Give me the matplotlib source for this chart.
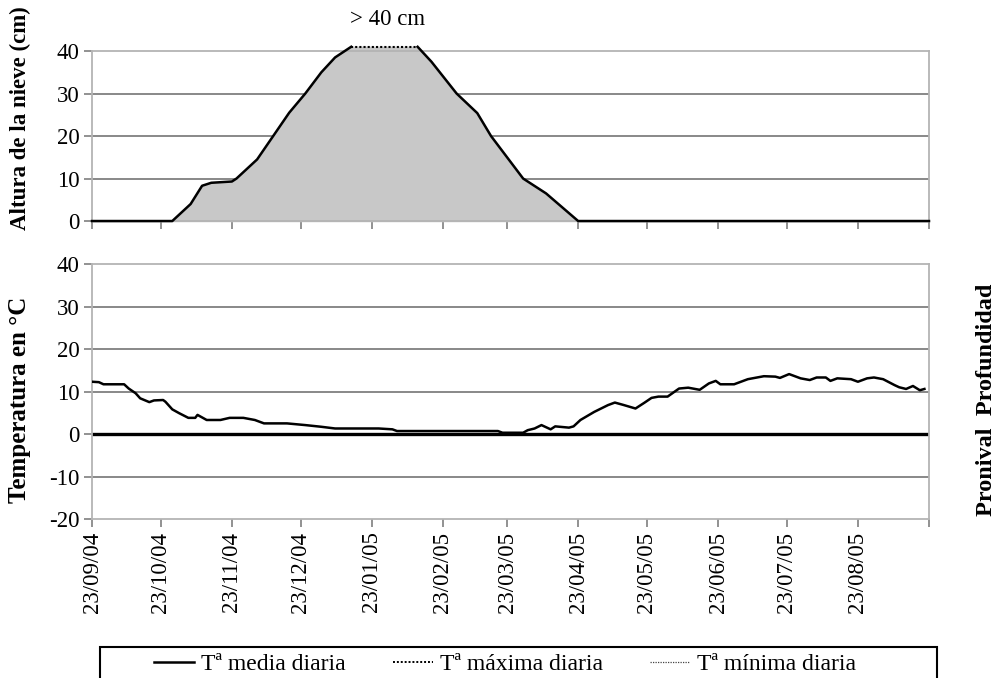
import matplotlib.pyplot as plt
import pandas as pd
from matplotlib.lines import Line2D
from matplotlib.patches import Rectangle

plt.rcParams['font.family'] = ['Liberation Serif', 'DejaVu Serif']
plt.rcParams['xtick.labelsize'] = 16.5
plt.rcParams['ytick.labelsize'] = 16.5
plt.rcParams['axes.unicode_minus'] = False

# snow depth (cm)
snow_dates = ['2004-09-23', '2004-10-28', '2004-11-05', '2004-11-10', '2004-11-14',
              '2004-11-23', '2004-11-25', '2004-12-04', '2004-12-11', '2004-12-18',
              '2004-12-25', '2005-01-01', '2005-01-07', '2005-01-14', '2005-02-12',
              '2005-02-18', '2005-03-01', '2005-03-10', '2005-03-16', '2005-03-30',
              '2005-04-09', '2005-04-23', '2005-09-23']
snow_cm = [0, 0, 4, 8.3, 9, 9.3, 10, 14.5, 20, 25.5, 30, 35, 38.5, 41, 41,
           37.5, 30, 25.4, 20, 10, 6.5, 0, 0]

# daily mean temperature (ºC)
temp_dates = ['2004-09-23', '2004-09-26', '2004-09-28', '2004-10-07', '2004-10-09',
              '2004-10-12', '2004-10-14', '2004-10-18', '2004-10-20', '2004-10-24',
              '2004-10-25', '2004-10-28', '2004-10-31', '2004-11-04', '2004-11-07',
              '2004-11-08', '2004-11-12', '2004-11-18', '2004-11-22', '2004-11-28',
              '2004-12-03', '2004-12-07', '2004-12-17', '2004-12-25', '2005-01-01',
              '2005-01-07', '2005-01-26', '2005-02-01', '2005-02-03', '2005-03-19',
              '2005-03-21', '2005-03-30', '2005-04-01', '2005-04-04', '2005-04-07',
              '2005-04-11', '2005-04-13', '2005-04-19', '2005-04-21', '2005-04-24',
              '2005-04-30', '2005-05-06', '2005-05-09', '2005-05-13', '2005-05-18',
              '2005-05-22', '2005-05-25', '2005-05-28', '2005-06-01', '2005-06-06',
              '2005-06-10', '2005-06-15', '2005-06-19', '2005-06-22', '2005-06-24',
              '2005-06-30', '2005-07-06', '2005-07-13', '2005-07-18', '2005-07-20',
              '2005-07-24', '2005-07-29', '2005-08-02', '2005-08-05', '2005-08-09',
              '2005-08-11', '2005-08-14', '2005-08-20', '2005-08-23', '2005-08-27',
              '2005-08-30', '2005-09-03', '2005-09-08', '2005-09-10', '2005-09-13',
              '2005-09-16', '2005-09-19', '2005-09-21']
temp_mean = [12.3, 12.2, 11.7, 11.7, 10.7, 9.6, 8.4, 7.5, 7.9, 8.0,
             7.6, 5.8, 4.9, 3.8, 3.8, 4.5, 3.3, 3.3, 3.8, 3.8,
             3.3, 2.5, 2.5, 2.1, 1.7, 1.3, 1.3, 1.1, 0.7, 0.7,
             0.3, 0.3, 0.9, 1.3, 2.1, 1.1, 1.8, 1.5, 1.8, 3.3,
             5.2, 6.8, 7.4, 6.8, 6.0, 7.4, 8.5, 8.8, 8.8, 10.7,
             10.9, 10.4, 11.9, 12.5, 11.7, 11.7, 12.9, 13.6, 13.5, 13.2,
             14.1, 13.1, 12.7, 13.3, 13.3, 12.5, 13.1, 12.9, 12.3, 13.1,
             13.3, 12.9, 11.5, 11.0, 10.6, 11.3, 10.3, 10.6]

tick_dates = ['2004-09-23', '2004-10-23', '2004-11-23', '2004-12-23', '2005-01-23',
              '2005-02-23', '2005-03-23', '2005-04-23', '2005-05-23', '2005-06-23',
              '2005-07-23', '2005-08-23', '2005-09-23']
tick_labels = ['23/09/04', '23/10/04', '23/11/04', '23/12/04', '23/01/05', '23/02/05',
               '23/03/05', '23/04/05', '23/05/05', '23/06/05', '23/07/05', '23/08/05', '']

sd = pd.to_datetime(snow_dates)
td = pd.to_datetime(temp_dates)
ticks = pd.to_datetime(tick_dates)

grid_c = '#7f7f7f'
frame_c = '#b4b4b4'

fig = plt.figure(figsize=(9.97, 6.78), dpi=100)
ax1 = fig.add_axes([0.0923, 0.674, 0.8395, 0.2507])
ax2 = fig.add_axes([0.0923, 0.2345, 0.8395, 0.3761])


def style(ax, yticks):
    ax.set_xlim(ticks[0], ticks[-1])
    ax.set_ylim(yticks[0], yticks[-1])
    ax.set_yticks(yticks)
    ax.set_xticks(ticks)
    ax.grid(axis='y', color=grid_c, lw=1.3)
    ax.set_axisbelow(True)
    for s in ['left', 'right', 'top', 'bottom']:
        ax.spines[s].set_color(frame_c)
        ax.spines[s].set_linewidth(1.3)
    ax.tick_params(direction='out', length=6, width=1.2, color=grid_c, pad=3)
    gl = ax.yaxis.get_gridlines()
    gl[0].set_visible(False)
    gl[-1].set_visible(False)


# upper panel: snow depth
style(ax1, [0, 10, 20, 30, 40])
ax1.fill_between(sd, snow_cm, 0, color='#c8c8c8', zorder=2, clip_on=False)
top = [i for i, v in enumerate(snow_cm) if v == max(snow_cm)]
ax1.plot(sd[:top[0] + 1], snow_cm[:top[0] + 1], color='black', lw=1.8, zorder=3, clip_on=False)
ax1.plot(sd[top[0]:top[-1] + 1], snow_cm[top[0]:top[-1] + 1], color='black', lw=1.5,
         ls=(0, (1, 1)), zorder=3, clip_on=False)
ax1.plot(sd[top[-1]:], snow_cm[top[-1]:], color='black', lw=1.8, zorder=3, clip_on=False)
ax1.set_xticklabels([])
ax1.text(pd.Timestamp('2005-01-30'), 47.5, '> 40 cm', ha='center', va='center', fontsize=16.5)

# lower panel: temperature
style(ax2, [-20, -10, 0, 10, 20, 30, 40])
ax2.axhline(0, color='black', lw=2.4, zorder=2)
ax2.plot(td, temp_mean, color='black', lw=1.8, zorder=3)
ax2.set_xticklabels(tick_labels, rotation=90)

fig.text(20 / 997, 1 - 118 / 678, 'Altura de la nieve (cm)', rotation=90, ha='center',
         va='center', fontsize=16.5, fontweight='bold')
fig.text(20 / 997, 1 - 400 / 678, 'Temperatura en °C', rotation=90, ha='center',
         va='center', fontsize=18, fontweight='bold')
fig.text(986 / 997, 1 - 400 / 678, 'Pronival  Profundidad', rotation=90, ha='center',
         va='center', fontsize=17.5, fontweight='bold')

# legend box at the bottom
fig.patches.append(Rectangle((100 / 997, -0.05), 837 / 997, 0.05 + 31 / 678,
                             transform=fig.transFigure, fill=False, ec='black', lw=1.5))
handles = [Line2D([], [], color='black', lw=1.8),
           Line2D([], [], color='black', lw=1.4, ls=(0, (1, 1))),
           Line2D([], [], color='#444444', lw=0.9, ls=(0, (1, 1)))]
fig.legend(handles, ['Tª media diaria', 'Tª máxima diaria', 'Tª mínima diaria'],
           loc='center', bbox_to_anchor=(505 / 997, 1 - 664 / 678), ncol=3, frameon=False,
           fontsize=17, handlelength=1.7, handletextpad=0.3, columnspacing=2.0)

fig.savefig('out.png', dpi=100)
